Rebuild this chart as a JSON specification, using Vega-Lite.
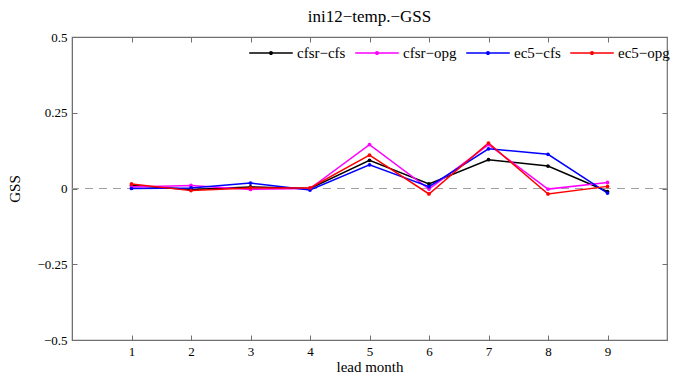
{
  "$schema": "https://vega.github.io/schema/vega-lite/v6.json",
  "autosize": "none",
  "width": 595,
  "height": 303,
  "padding": {"left": 72, "top": 37, "right": 8, "bottom": 37},
  "background": "white",
  "title": {"text": "ini12−temp.−GSS", "font": "Liberation Serif", "fontSize": 17, "fontWeight": "normal", "color": "black", "offset": 4},
  "config": {
    "view": {"stroke": "#707070", "strokeWidth": 1.2},
    "axis": {"labelFont": "Liberation Serif", "titleFont": "Liberation Serif", "labelFontSize": 13, "titleFontSize": 15, "titleFontWeight": "normal", "labelColor": "black", "titleColor": "black", "domainColor": "#707070", "tickColor": "#707070", "tickSize": -5, "grid": false},
    "legend": {"labelFont": "Liberation Serif", "labelFontSize": 15, "labelColor": "black"}
  },
  "datasets": {
    "gss": [
      {"month": 1, "series": "cfsr−cfs", "gss": 0.01},
      {"month": 2, "series": "cfsr−cfs", "gss": -0.003},
      {"month": 3, "series": "cfsr−cfs", "gss": 0.005},
      {"month": 4, "series": "cfsr−cfs", "gss": 0.0},
      {"month": 5, "series": "cfsr−cfs", "gss": 0.093},
      {"month": 6, "series": "cfsr−cfs", "gss": 0.015},
      {"month": 7, "series": "cfsr−cfs", "gss": 0.095},
      {"month": 8, "series": "cfsr−cfs", "gss": 0.074},
      {"month": 9, "series": "cfsr−cfs", "gss": -0.01},
      {"month": 1, "series": "cfsr−opg", "gss": 0.005},
      {"month": 2, "series": "cfsr−opg", "gss": 0.01},
      {"month": 3, "series": "cfsr−opg", "gss": -0.003},
      {"month": 4, "series": "cfsr−opg", "gss": 0.0},
      {"month": 5, "series": "cfsr−opg", "gss": 0.145},
      {"month": 6, "series": "cfsr−opg", "gss": -0.002},
      {"month": 7, "series": "cfsr−opg", "gss": 0.145},
      {"month": 8, "series": "cfsr−opg", "gss": -0.002},
      {"month": 9, "series": "cfsr−opg", "gss": 0.02},
      {"month": 1, "series": "ec5−cfs", "gss": 0.0},
      {"month": 2, "series": "ec5−cfs", "gss": 0.002},
      {"month": 3, "series": "ec5−cfs", "gss": 0.018},
      {"month": 4, "series": "ec5−cfs", "gss": -0.005},
      {"month": 5, "series": "ec5−cfs", "gss": 0.078},
      {"month": 6, "series": "ec5−cfs", "gss": 0.006},
      {"month": 7, "series": "ec5−cfs", "gss": 0.131},
      {"month": 8, "series": "ec5−cfs", "gss": 0.113},
      {"month": 9, "series": "ec5−cfs", "gss": -0.015},
      {"month": 1, "series": "ec5−opg", "gss": 0.015},
      {"month": 2, "series": "ec5−opg", "gss": -0.007},
      {"month": 3, "series": "ec5−opg", "gss": 0.002},
      {"month": 4, "series": "ec5−opg", "gss": 0.002},
      {"month": 5, "series": "ec5−opg", "gss": 0.11},
      {"month": 6, "series": "ec5−opg", "gss": -0.018},
      {"month": 7, "series": "ec5−opg", "gss": 0.15},
      {"month": 8, "series": "ec5−opg", "gss": -0.018},
      {"month": 9, "series": "ec5−opg", "gss": 0.007}
    ]
  },
  "layer": [
    {
      "layer": [
        {
          "data": {"values": [{"zero": 0}]},
          "mark": {"type": "rule", "color": "#a0a0a0", "strokeDash": [8, 6], "strokeWidth": 1},
          "encoding": {"y": {"field": "zero", "type": "quantitative"}}
        },
        {
          "data": {"name": "gss"},
          "mark": {"type": "line", "strokeWidth": 1.5, "point": {"filled": true, "size": 14}},
          "encoding": {
            "x": {"field": "month", "type": "quantitative", "scale": {"domain": [0, 10], "nice": false},
                  "axis": {"values": [1,2,3,4,5,6,7,8,9], "title": "lead month", "labelPadding": 10, "titlePadding": 1}},
            "y": {"field": "gss", "type": "quantitative", "scale": {"domain": [-0.5, 0.5], "nice": false},
                  "axis": {"values": [-0.5, -0.25, 0, 0.25, 0.5], "format": ".2~f", "title": "GSS", "labelPadding": 10, "titlePadding": 14}},
            "color": {"field": "series", "type": "nominal",
                      "scale": {"domain": ["cfsr−cfs", "cfsr−opg", "ec5−cfs", "ec5−opg"], "range": ["#000000", "#ff00ff", "#0000ff", "#ff0000"]},
                      "legend": {"title": null, "orient": "none", "legendX": 176, "legendY": -7, "direction": "horizontal",
                                 "symbolType": "M-1,0L1,0M-0.06,0a0.06,0.06 0 1,0 0.12,0a0.06,0.06 0 1,0 -0.12,0",
                                 "symbolSize": 1900, "symbolStrokeWidth": 1.5, "labelOffset": 3, "columnPadding": 6, "padding": 0}}
          }
        }
      ]
    },
    {
      "data": {"values": [{"a": 0, "b": 0}]},
      "mark": {"type": "point", "opacity": 0},
      "encoding": {
        "x": {"field": "a", "type": "quantitative", "scale": {"domain": [0, 10], "nice": false},
              "axis": {"orient": "top", "values": [1,2,3,4,5,6,7,8,9], "labels": false, "title": null, "domain": false}},
        "y": {"field": "b", "type": "quantitative", "scale": {"domain": [-0.5, 0.5], "nice": false},
              "axis": {"orient": "right", "values": [-0.5, -0.25, 0, 0.25, 0.5], "labels": false, "title": null, "domain": false}}
      }
    }
  ],
  "resolve": {"scale": {"x": "independent", "y": "independent"}}
}
